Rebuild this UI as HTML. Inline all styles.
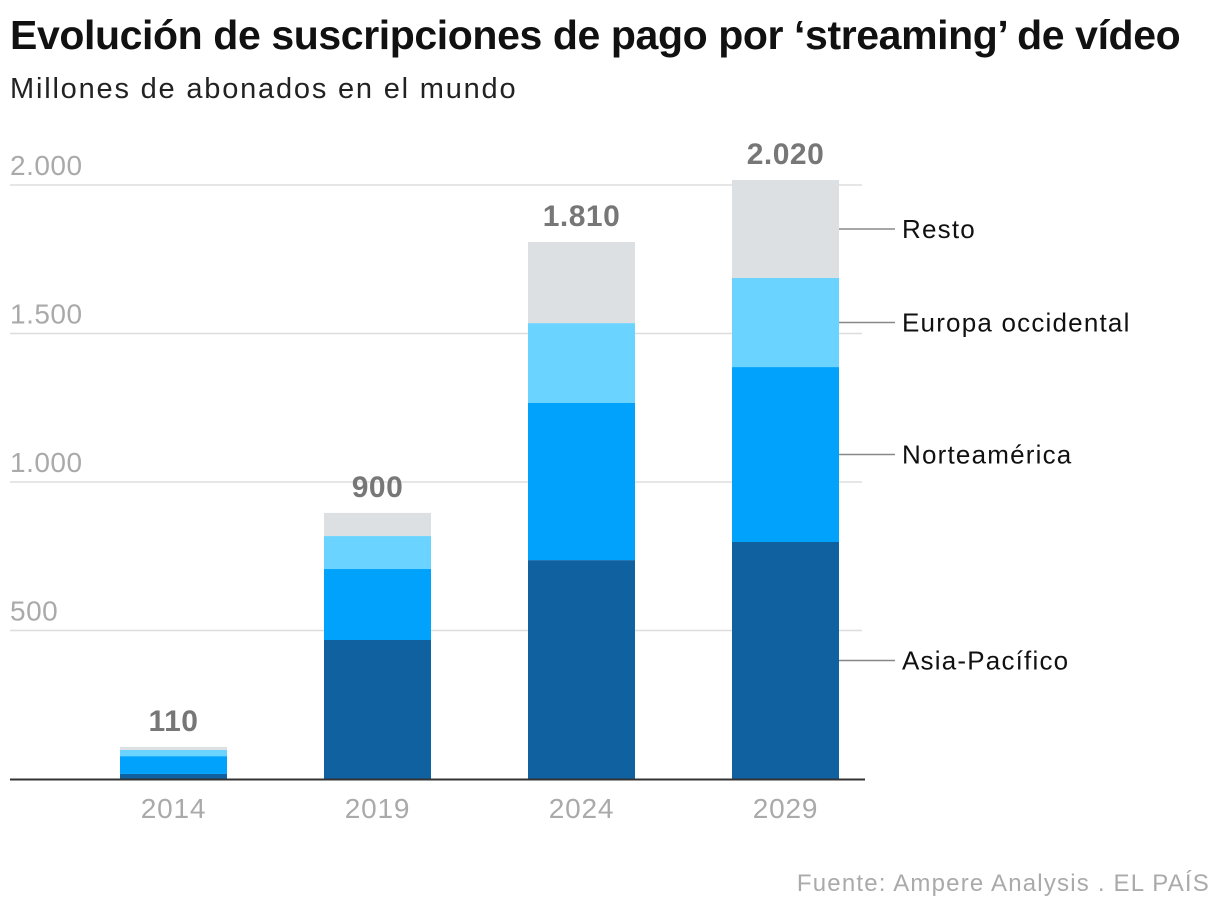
<!DOCTYPE html>
<html><head><meta charset="utf-8"><style>
body{margin:0;background:#fff;width:1220px;height:916px;overflow:hidden;font-family:"Liberation Sans",sans-serif}
h1{position:absolute;left:10px;top:12px;margin:0;font-size:41px;font-weight:bold;color:#111;letter-spacing:-0.4px;white-space:nowrap}
.sub{position:absolute;left:10px;top:73px;font-size:29px;color:#222;letter-spacing:1.8px;white-space:nowrap}
.src{position:absolute;right:10px;top:870px;font-size:24px;color:#aaa;letter-spacing:1.2px;white-space:nowrap}
</style></head><body>
<h1>Evolución de suscripciones de pago por ‘streaming’ de vídeo</h1>
<div class="sub">Millones de abonados en el mundo</div>
<svg id="c" width="1220" height="916" style="position:absolute;left:0;top:0"></svg>
<div class="src">Fuente: Ampere Analysis . EL PAÍS</div>
<script>
const years=["2014","2019","2024","2029"];
const asia=[17,468,737,798];
const norte=[60,239,529,589];
const europa=[21,111,269,300];
const resto=[10,78,273,330];
const totals=["110","900","1.810","2.020"];
const ticks=[500,1000,1500,2000];
const tickLabels=["500","1.000","1.500","2.000"];
const seriesNames=["Asia-Pacífico","Norteamérica","Europa occidental","Resto"];
const colors=["#0f61a0","#00a2fb","#6ad3ff","#dde0e3"];
const svg=document.getElementById('c');const NS="http://www.w3.org/2000/svg";
const y0=779,k=0.297;const y=v=>y0-v*k;
const x=i=>120+i*204,bw=107;
function mk(t,a){const e=document.createElementNS(NS,t);for(const p in a)e.setAttribute(p,a[p]);svg.appendChild(e);return e;}
ticks.forEach((t,i)=>{
 const l=mk('line',{x1:10,x2:862,y1:y(t),y2:y(t),stroke:'#ddd','stroke-width':1.5});
 
 
 const tx=mk('text',{x:10,y:y(t)-10,'font-size':28,fill:'#aaa','font-family':'Liberation Sans','letter-spacing':0.5});tx.textContent=tickLabels[i];
 
 
});
const series=[asia,norte,europa,resto];
years.forEach((yr,i)=>{
 let cum=0;
 series.forEach((s,j)=>{
  const r=mk('rect',{x:x(i),width:bw,y:y(cum+s[i]),height:s[i]*k,fill:colors[j]});
  
  
  cum+=s[i];
 });
 const t=mk('text',{x:x(i)+bw/2,y:y(cum)-16,'font-size':30,'font-weight':'bold',fill:'#777','text-anchor':'middle','font-family':'Liberation Sans','letter-spacing':0.5});t.textContent=totals[i];
 
 
 const xl=mk('text',{x:x(i)+bw/2,y:818,'font-size':28,fill:'#aaa','text-anchor':'middle','font-family':'Liberation Sans','letter-spacing':0.8});xl.textContent=yr;
 
 
});
const ax=mk('line',{x1:10,x2:865,y1:y0+0.5,y2:y0+0.5,stroke:'#333','stroke-width':2});


let cum=0;const li=3;
series.forEach((s,j)=>{
 const mid=cum+s[li]/2;cum+=s[li];
 const ly=y(mid);
 const l=mk('line',{x1:839,x2:895,y1:ly,y2:ly,stroke:'#888','stroke-width':1.5});
 
 
 const t=mk('text',{x:902,y:ly+9,'font-size':26,fill:'#111','font-family':'Liberation Sans','letter-spacing':1.2});t.textContent=seriesNames[j];
 
 
});
</script>
</body></html>
